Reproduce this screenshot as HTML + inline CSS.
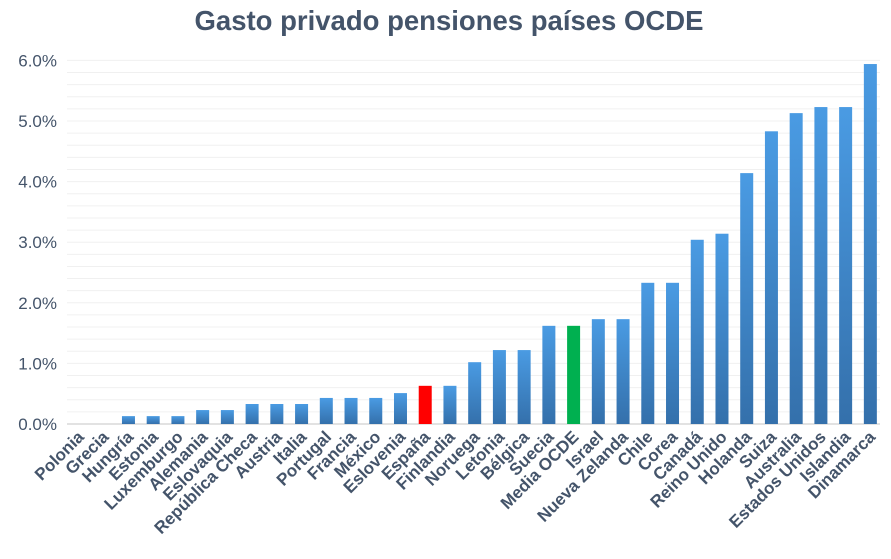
<!DOCTYPE html>
<html><head><meta charset="utf-8"><style>
body{margin:0;background:#fff;}
svg{display:block;font-family:"Liberation Sans",sans-serif;}
</style></head><body>
<svg id="chart" width="891" height="559">
<defs><linearGradient id="gb" x1="0" y1="0" x2="0" y2="1"><stop offset="0" stop-color="#4a9be3"/><stop offset="1" stop-color="#3470ab"/></linearGradient></defs>
<text x="449" y="30" text-anchor="middle" font-size="27.5" font-weight="bold" fill="#44546a">Gasto privado pensiones países OCDE</text>
<g id="grid"></g><g id="yaxis"></g><g id="bars"></g><g id="xlabels"></g>
</svg>
<script>
const categories=["Polonia","Grecia","Hungría","Estonia","Luxemburgo","Alemania","Eslovaquia","República Checa","Austria","Italia","Portugal","Francia","México","Eslovenia","España","Finlandia","Noruega","Letonia","Bélgica","Suecia","Media OCDE","Israel","Nueva Zelanda","Chile","Corea","Canadá","Reino Unido","Holanda","Suiza","Australia","Estados Unidos","Islandia","Dinamarca"];
const values=[0,0,0.13,0.13,0.13,0.23,0.23,0.33,0.33,0.33,0.43,0.43,0.43,0.51,0.63,0.63,1.02,1.22,1.22,1.62,1.62,1.73,1.73,2.33,2.33,3.04,3.14,4.14,4.83,5.13,5.23,5.23,5.94];
const yTicks=[0,1,2,3,4,5,6];
const ns="http://www.w3.org/2000/svg";
const y0=424,pxPer=60.6,x0=79,step=24.73,bw=13;
const Y=v=>y0-v*pxPer, X=i=>x0+i*step;
function mk(t,a,p){const e=document.createElementNS(ns,t);for(const k in a)e.setAttribute(k,a[k]);p.appendChild(e);return e;}
const grid=document.getElementById('grid'),ya=document.getElementById('yaxis'),bars=document.getElementById('bars'),xl=document.getElementById('xlabels');
for(let v=0.2;v<=6.01;v+=0.2){const l=mk('line',{x1:67,x2:880,y1:Y(v),y2:Y(v),stroke:'#f0f0f0','stroke-width':1},grid);

}
const ax=mk('line',{x1:67,x2:880,y1:y0,y2:y0,stroke:'#d9d9d9','stroke-width':1.5},grid);


yTicks.forEach(v=>{const t=mk('text',{x:57,y:Y(v)+6,'text-anchor':'end','font-size':17,fill:'#44546a'},ya);t.textContent=v.toFixed(1)+'%';

});
categories.forEach((c,i)=>{
const col=c==="España"?'#ff0000':(c==="Media OCDE"?'#00b050':'url(#gb)');
const r=mk('rect',{x:X(i)-bw/2,y:Y(values[i]),width:bw,height:values[i]*pxPer,fill:col},bars);


const t=mk('text',{'text-anchor':'end','font-size':17,'font-weight':'bold',fill:'#44546a',transform:`translate(${X(i)+6},${y0+14}) rotate(-45)`},xl);
t.textContent=c;


});
</script>
</body></html>
